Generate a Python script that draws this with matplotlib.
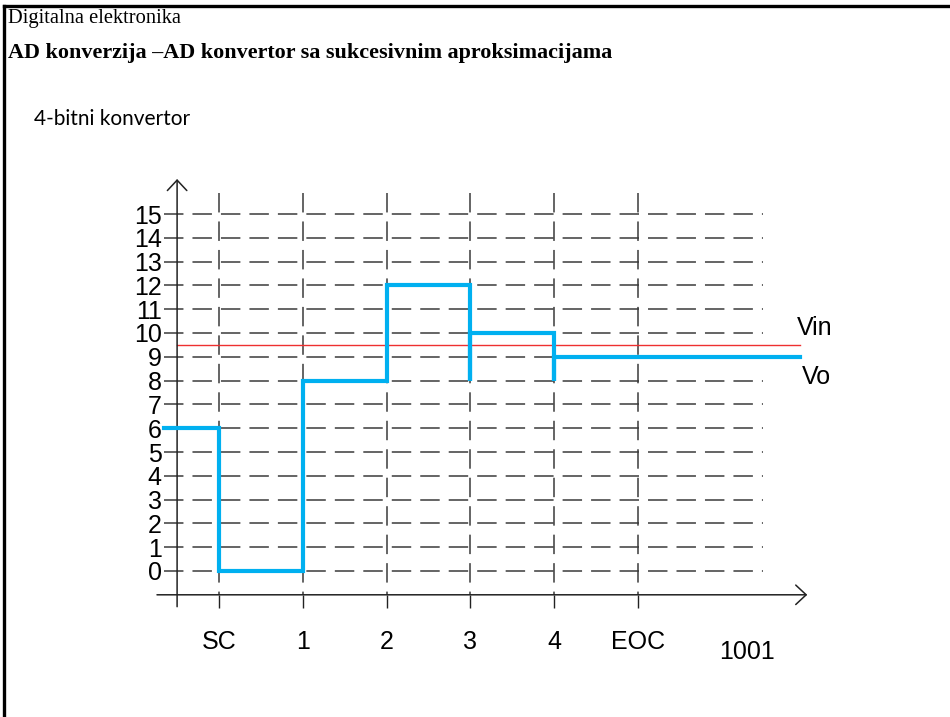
import matplotlib
matplotlib.use("Agg")
import matplotlib.pyplot as plt
from matplotlib.lines import Line2D

plt.rcParams['lines.scale_dashes'] = False

# ---- data ----
y_levels = list(range(16))                     # y tick values 0..15
y_labels = [str(v) for v in y_levels]
x_positions = [0, 1, 2, 3, 4, 5]
x_labels = ["SC", "1", "2", "3", "4", "EOC"]
step_edges = [-0.66, 0, 1, 2, 3, 4, 6.93]      # time edges of each DAC output level
step_levels = [6, 0, 8, 12, 10, 9]             # DAC output (Vo) levels
spike_times = [3, 4]                           # comparator glitches
spike_low = 8
vin = 9.5
result_text = "1001"

W, H = 950, 717
fig = plt.figure(figsize=(W / 100, H / 100), dpi=100)

# axes placement (pixel mapping)
x0_px, x1_px = 177.1, 805.6
y0_px, y1_px = 594.8, 178.3
ax = fig.add_axes([x0_px / W, 1 - y0_px / H, (x1_px - x0_px) / W, (y0_px - y1_px) / H])
ax.set_xlim(-0.5, 7.0)
ax.set_ylim(-1, 16.5)
for s in ax.spines.values():
    s.set_visible(False)
ax.patch.set_alpha(0)

font_sans = "Liberation Sans"
fs = 18
grid_col = "#3a3a3a"
dash = (0, (14, 6.5))

# horizontal dashed grid lines
for v in y_levels:
    ax.plot([-0.66, 6.49], [v, v], color=grid_col, lw=1.1, linestyle=dash,
            clip_on=False, zorder=1)
# vertical dashed lines
for xp in x_positions:
    ax.plot([xp, xp], [15.9, -1.0], color=grid_col, lw=1.1, linestyle=dash,
            clip_on=False, zorder=1)

# axes arrows
arrow_style = "->,head_length=0.75,head_width=0.7"
ax.annotate("", xy=(-0.5, 16.47), xytext=(-0.5, -1.5),
            arrowprops=dict(arrowstyle=arrow_style, color="#222222", lw=1.1,
                            shrinkA=0, shrinkB=0),
            annotation_clip=False)
ax.annotate("", xy=(7.02, -1), xytext=(-0.74, -1),
            arrowprops=dict(arrowstyle=arrow_style, color="#222222", lw=1.1,
                            shrinkA=0, shrinkB=0),
            annotation_clip=False)

# ticks
ax.set_yticks(y_levels)
ax.set_yticklabels(y_labels, fontfamily=font_sans, fontsize=fs)
ax.tick_params(axis="y", length=0, pad=11)
ax.set_xticks(x_positions)
ax.set_xticklabels(x_labels, fontfamily=font_sans, fontsize=fs)
ax.tick_params(axis="x", length=9, width=1.0, color="#222222", pad=16, direction="out")

# Vin reference line
ax.plot([-0.5, 6.93], [vin, vin], color="#EE3030", lw=1.0, clip_on=False, zorder=2)

# Vo staircase built from the levels
px, py = [step_edges[0]], [step_levels[0]]
for i, lev in enumerate(step_levels):
    x_start = step_edges[i]
    if i > 0:
        if x_start in spike_times:
            px += [x_start, x_start]
            py += [spike_low, lev]
            x_start = x_start + 0.025
            px += [x_start]
            py += [lev]
        else:
            px.append(x_start)
            py.append(lev)
    px.append(step_edges[i + 1])
    py.append(lev)
ax.plot(px, py, color="#00B0F0", lw=3.0, solid_joinstyle="miter",
        clip_on=False, zorder=3)

# labels
ax.text(6.90, 10.2, "Vin", fontfamily=font_sans, fontsize=fs, va="center", ha="left")
ax.text(6.96, 8.15, "Vo", fontfamily=font_sans, fontsize=fs, va="center", ha="left")
ax.text(6.30, -3.4, result_text, fontfamily=font_sans, fontsize=fs, va="center", ha="center")

# header text
fig.text(8 / W, 1 - 18 / H, "Digitalna elektronika", fontfamily="Liberation Serif",
         fontsize=14.8, va="center", ha="left")
fig.text(8 / W, 1 - 53 / H, "AD konverzija \u2013AD konvertor sa sukcesivnim aproksimacijama",
         fontfamily="Liberation Serif", fontweight="bold", fontsize=15.9, va="center", ha="left")
fig.text(34 / W, 1 - 119 / H, "4-bitni konvertor", fontfamily="Lato",
         fontsize=15, va="center", ha="left")

# slide border (top and left)
fig.add_artist(Line2D([4 / W, 1], [1 - 6 / H, 1 - 6 / H], transform=fig.transFigure,
                      color="black", lw=2.4))
fig.add_artist(Line2D([4 / W, 4 / W], [0, 1 - 6 / H], transform=fig.transFigure,
                      color="black", lw=2.4))

fig.savefig("out.png", dpi=100, facecolor="white")
